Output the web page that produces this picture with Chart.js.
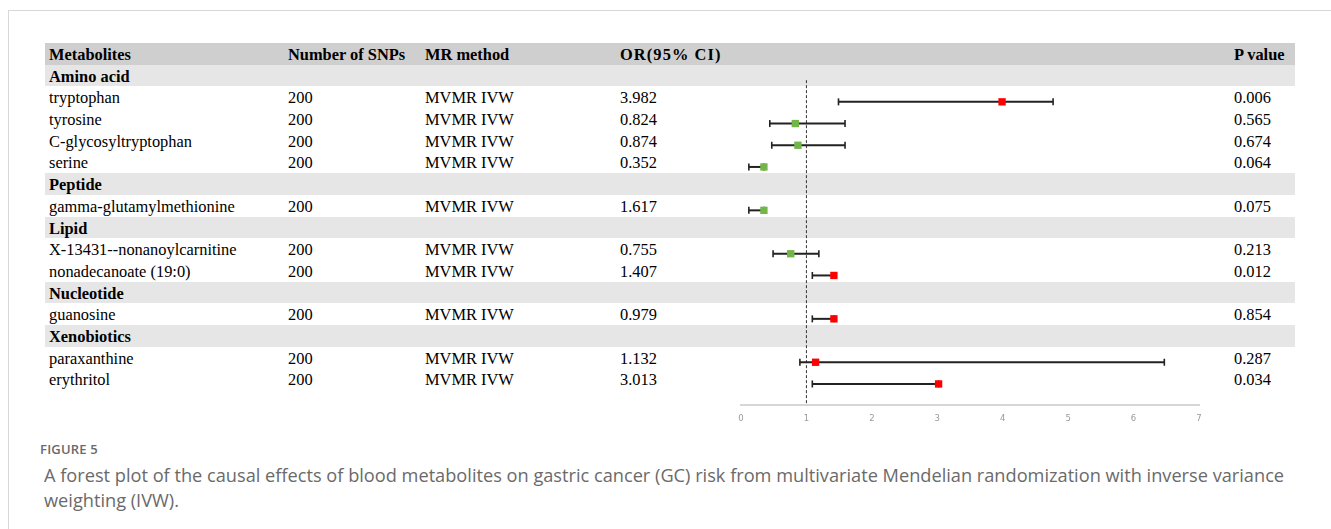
<!DOCTYPE html>
<html>
<head>
<meta charset="utf-8">
<script src="https://cdn.jsdelivr.net/npm/chart.js@4.4.1/dist/chart.umd.min.js"></script>
<style>
  html, body { margin: 0; padding: 0; background: #fff; width: 1331px; height: 529px; overflow: hidden; }
  #frame { position: absolute; left: 8px; top: 10px; width: 1400px; height: 600px; border: 1px solid #d8d8d8; }
  #table { position: absolute; left: 45px; top: 43px; width: 1250px; font-family: "Liberation Serif", "Times New Roman", serif; font-size: 16.4px; color: #000; }
  .row { position: relative; height: 21.7px; line-height: 21.7px; white-space: nowrap; }
  .row span { position: absolute; top: 1px; }
  .head { background: #d0cfcf; font-weight: bold; }
  .group { background: #e6e6e6; font-weight: bold; }
  #plot { position: absolute; left: 720px; top: 43px; }
  #caption { position: absolute; left: 45px; top: 440px; width: 1275px; font-family: "Open Sans", sans-serif; color: #6a6a6a; }
  #caption .fig { font-size: 13px; font-weight: 600; letter-spacing: 0.2px; margin-left: -5px; }
  #caption .txt { font-size: 18.2px; line-height: 25px; margin-top: 5px; margin-left: -1px; }
</style>
</head>
<body>
<div id="frame"></div>
<div id="table"></div>
<canvas id="plot" width="500" height="386"></canvas>
<div id="caption">
  <div class="fig">FIGURE 5</div>
  <div class="txt">A forest plot of the causal effects of blood metabolites on gastric cancer (GC) risk from multivariate Mendelian randomization with inverse variance weighting (IVW).</div>
</div>
<script>
const headers = ['Metabolites', 'Number of SNPs', 'MR method', 'OR(95% CI)', 'P value'];
const groupNames = ['Amino acid', 'Peptide', 'Lipid', 'Nucleotide', 'Xenobiotics'];
const groupSizes = [4, 1, 2, 1, 2];
const metabolites = ['tryptophan', 'tyrosine', 'C-glycosyltryptophan', 'serine', 'gamma-glutamylmethionine',
  'X-13431--nonanoylcarnitine', 'nonadecanoate (19:0)', 'guanosine', 'paraxanthine', 'erythritol'];
const snps = [200, 200, 200, 200, 200, 200, 200, 200, 200, 200];
const methods = ['MVMR IVW', 'MVMR IVW', 'MVMR IVW', 'MVMR IVW', 'MVMR IVW', 'MVMR IVW', 'MVMR IVW', 'MVMR IVW', 'MVMR IVW', 'MVMR IVW'];
const orLabels = ['3.982', '0.824', '0.874', '0.352', '1.617', '0.755', '1.407', '0.979', '1.132', '3.013'];
const pValues = ['0.006', '0.565', '0.674', '0.064', '0.075', '0.213', '0.012', '0.854', '0.287', '0.034'];
// values as drawn in the plot
const orPlotted = [3.99, 0.83, 0.87, 0.35, 0.35, 0.76, 1.42, 1.42, 1.14, 3.02];
const ciLower = [1.49, 0.44, 0.47, 0.12, 0.12, 0.49, 1.09, 1.09, 0.90, 1.09];
const ciUpper = [4.77, 1.59, 1.59, 0.35, 0.35, 1.19, 1.42, 1.42, 6.47, 3.02];
const xTicks = [0, 1, 2, 3, 4, 5, 6, 7];

const colX = [4, 243, 380, 575, 1189];
const rowH = 21.7;

// build the table rows, remembering which row each metabolite sits on
const table = document.getElementById('table');
function addRow(cls, cells) {
  const div = document.createElement('div');
  div.className = 'row ' + cls;
  cells.forEach((t, i) => {
    if (t === null) return;
    const s = document.createElement('span');
    s.style.left = colX[i] + 'px';
    if (cls === 'head' && i === 3) s.style.letterSpacing = '1.1px';
    s.textContent = t;
    div.appendChild(s);
  });
  table.appendChild(div);
}
addRow('head', headers);
const rowIndex = [];
let r = 1, m = 0;
groupNames.forEach((g, gi) => {
  addRow('group', [g]);
  r++;
  for (let k = 0; k < groupSizes[gi]; k++, m++) {
    addRow('', [metabolites[m], String(snps[m]), methods[m], orLabels[m], pValues[m]]);
    rowIndex.push(r);
    r++;
  }
});

// marker sits a bit below the middle of its row
const plotH = 362;
const yMin = -(rowH / 2 + 4.6) / rowH;
const yMax = yMin + plotH / rowH;

const datasets = [];
datasets.push({
  type: 'scatter',
  data: metabolites.map((_, i) => ({ x: orPlotted[i], y: rowIndex[i] })),
  pointStyle: 'rect',
  pointRadius: 5.2,
  backgroundColor: orPlotted.map(v => v < 1 ? '#72b548' : '#ff0000'),
  borderWidth: 0,
  order: 0
});
metabolites.forEach((_, i) => {
  datasets.push({
    type: 'line',
    data: [{ x: ciLower[i], y: rowIndex[i] }, { x: ciUpper[i], y: rowIndex[i] }],
    borderColor: '#222',
    borderWidth: 2,
    pointStyle: 'line',
    pointRotation: 90,
    pointRadius: 3.5,
    pointBorderColor: '#222',
    pointBorderWidth: 1.6,
    order: 1
  });
});
datasets.push({
  type: 'line',
  data: [{ x: 1, y: 1 }, { x: 1, y: yMax }],
  borderColor: '#333',
  borderWidth: 1,
  borderDash: [3, 2],
  pointRadius: 0,
  order: 2
});

new Chart(document.getElementById('plot').getContext('2d'), {
  type: 'scatter',
  data: { datasets: datasets },
  options: {
    responsive: false,
    animation: false,
    layout: { autoPadding: false, padding: { left: 21, right: 21, top: 0, bottom: 0 } },
    scales: {
      x: {
        type: 'linear',
        min: xTicks[0],
        max: xTicks[xTicks.length - 1],
        afterBuildTicks: s => { s.ticks = xTicks.map(v => ({ value: v })); },
        afterFit: s => { s.height = 24; },
        grid: { display: false, drawTicks: false },
        border: { display: true, color: '#d6d6d6', width: 2 },
        ticks: { color: '#9a9a9a', padding: 9, font: { family: 'DejaVu Sans', size: 8.5 } }
      },
      y: {
        type: 'linear',
        display: false,
        reverse: true,
        min: yMin,
        max: yMax
      }
    },
    plugins: {
      legend: { display: false },
      tooltip: { enabled: false }
    }
  }
});
</script>
</body>
</html>
